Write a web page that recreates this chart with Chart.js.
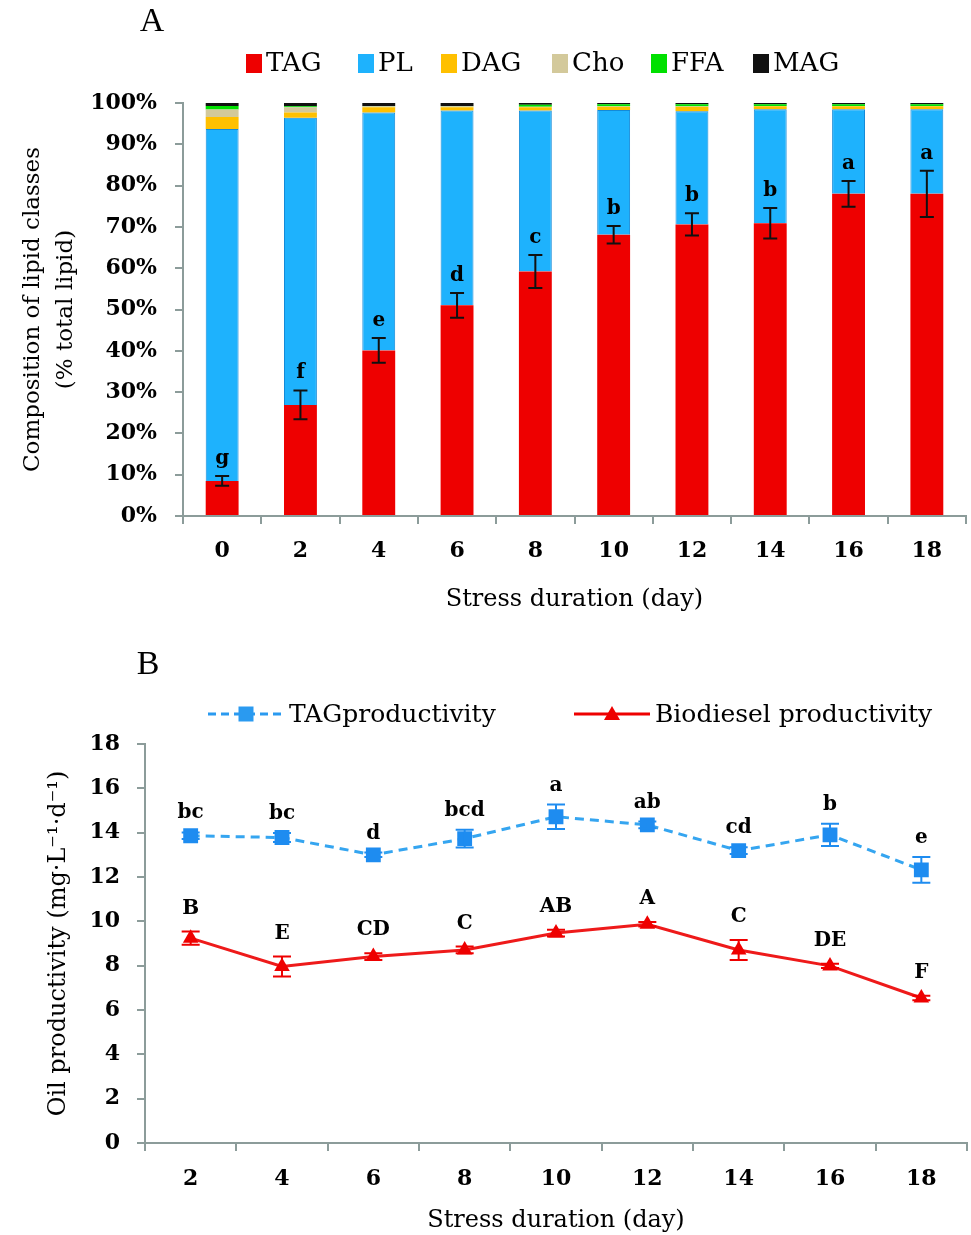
<!DOCTYPE html>
<html>
<head>
<meta charset="utf-8">
<script src="https://cdn.jsdelivr.net/npm/chart.js@4.4.1/dist/chart.umd.min.js"></script>
<style>
  body { margin: 0; background: #fff; }
  #wrapA { position: absolute; left: 0; top: 0; width: 971px; height: 625px; }
  #wrapB { position: absolute; left: 0; top: 625px; width: 971px; height: 610px; }
</style>
</head>
<body>
<div id="wrapA"><canvas id="chartA"></canvas></div>
<div id="wrapB"><canvas id="chartB"></canvas></div>
<script>
// panel A - lipid class composition (%)
var days = ['0', '2', '4', '6', '8', '10', '12', '14', '16', '18'];
var tagPct = [8.5, 26.9, 40.1, 51.0, 59.2, 68.1, 70.6, 70.9, 78.0, 78.0];
var plPct  = [85.2, 69.5, 57.6, 47.2, 39.0, 30.2, 27.4, 27.6, 20.5, 20.5];
var dagPct = [2.9, 1.3, 1.3, 0.8, 0.8, 0.8, 1.1, 0.7, 0.7, 0.7];
var choPct = [1.8, 1.3, 0.2, 0.2, 0.1, 0.1, 0.1, 0.1, 0.1, 0.1];
var ffaPct = [0.9, 0.2, 0.1, 0.1, 0.5, 0.5, 0.5, 0.4, 0.4, 0.4];
var magPct = [0.7, 0.8, 0.7, 0.7, 0.4, 0.3, 0.3, 0.3, 0.3, 0.3];
var tagPctErr = [1.2, 3.5, 3.0, 3.0, 4.0, 2.1, 2.7, 3.7, 3.1, 5.6];
var tagPctLetters = ['g', 'f', 'e', 'd', 'c', 'b', 'b', 'b', 'a', 'a'];

// panel B - productivity (mg/L/d)
var prodDays = ['2', '4', '6', '8', '10', '12', '14', '16', '18'];
var tagProd = [13.86, 13.78, 13.0, 13.73, 14.72, 14.35, 13.19, 13.9, 12.32];
var tagProdErr = [0.15, 0.2, 0.1, 0.4, 0.55, 0.15, 0.15, 0.5, 0.58];
var tagProdLetters = ['bc', 'bc', 'd', 'bcd', 'a', 'ab', 'cd', 'b', 'e'];
var bioProd = [9.24, 7.96, 8.41, 8.71, 9.47, 9.87, 8.71, 7.99, 6.54];
var bioProdErr = [0.3, 0.45, 0.15, 0.15, 0.15, 0.1, 0.45, 0.1, 0.1];
var bioProdLetters = ['B', 'E', 'CD', 'C', 'AB', 'A', 'C', 'DE', 'F'];

var FONT = 'DejaVu Serif';
var AXIS = '#8c9c9a';
Chart.defaults.font.family = FONT;
Chart.defaults.color = '#000';

// error bars + significance letters
var errorBarsPlugin = {
    id: 'errorBars',
    afterDatasetsDraw: function (chart, args, opts) {
        var ctx = chart.ctx;
        var yScale = chart.scales.y;
        (opts.sets || []).forEach(function (s) {
            var meta = chart.getDatasetMeta(s.dataset);
            var vals = chart.data.datasets[s.dataset].data;
            ctx.save();
            ctx.strokeStyle = s.color;
            ctx.lineWidth = 2;
            meta.data.forEach(function (el, i) {
                var x = el.x;
                var top = yScale.getPixelForValue(vals[i] + s.err[i]);
                var bot = yScale.getPixelForValue(vals[i] - s.err[i]);
                ctx.beginPath();
                ctx.moveTo(x, top); ctx.lineTo(x, bot);
                ctx.moveTo(x - s.cap, top); ctx.lineTo(x + s.cap, top);
                ctx.moveTo(x - s.cap, bot); ctx.lineTo(x + s.cap, bot);
                ctx.stroke();
                ctx.fillStyle = '#000';
                ctx.font = 'bold 20px "' + FONT + '"';
                ctx.textAlign = 'center';
                ctx.textBaseline = 'alphabetic';
                ctx.fillText(s.letters[i], x, top - s.gap);
            });
            ctx.restore();
        });
    }
};

// legend and panel letter drawn by hand
var sideLegendPlugin = {
    id: 'sideLegend',
    afterDraw: function (chart, args, opts) {
        var ctx = chart.ctx;
        ctx.save();
        ctx.fillStyle = '#000';
        ctx.font = '34px "Liberation Serif"';
        ctx.textAlign = 'center';
        ctx.textBaseline = 'middle';
        ctx.fillText(opts.panel.text, opts.panel.x, opts.panel.y);
        var y = opts.y;
        opts.items.forEach(function (it) {
            if (it.type === 'box') {
                ctx.fillStyle = it.color;
                ctx.fillRect(it.x, y - 9, 16, 19);
            } else {
                ctx.strokeStyle = it.color;
                ctx.lineWidth = 3;
                ctx.setLineDash(it.dash || []);
                ctx.beginPath();
                ctx.moveTo(it.x, y); ctx.lineTo(it.x2, y);
                ctx.stroke();
                ctx.setLineDash([]);
                ctx.fillStyle = it.color;
                var mx = (it.x + it.x2) / 2;
                ctx.beginPath();
                if (it.type === 'rect') {
                    ctx.rect(mx - 7.5, y - 7.5, 15, 15);
                } else {
                    ctx.moveTo(mx, y - 8); ctx.lineTo(mx + 8, y + 6); ctx.lineTo(mx - 8, y + 6); ctx.closePath();
                }
                ctx.fill();
            }
            ctx.fillStyle = '#000';
            ctx.font = opts.font;
            ctx.textAlign = 'left';
            ctx.textBaseline = 'middle';
            ctx.fillText(it.text, it.tx, y + 1);
        });
        ctx.restore();
    }
};

function axisGrid() {
    return { display: true, drawOnChartArea: false, drawTicks: true, tickLength: 8, color: AXIS, lineWidth: 2 };
}

new Chart(document.getElementById('chartA'), {
    type: 'bar',
    data: {
        labels: days,
        datasets: [
            { label: 'TAG', data: tagPct, backgroundColor: '#ee0000' },
            { label: 'PL', data: plPct, backgroundColor: '#1eb2fd', borderColor: '#138ad8', borderWidth: 1 },
            { label: 'DAG', data: dagPct, backgroundColor: '#ffc000' },
            { label: 'Cho', data: choPct, backgroundColor: '#d3c99b' },
            { label: 'FFA', data: ffaPct, backgroundColor: '#00e000' },
            { label: 'MAG', data: magPct, backgroundColor: '#111111' }
        ]
    },
    options: {
        responsive: true,
        maintainAspectRatio: false,
        animation: false,
        layout: { autoPadding: false, padding: { top: 103, right: 5, left: 0, bottom: 0 } },
        datasets: { bar: { barPercentage: 0.42, categoryPercentage: 1.0 } },
        scales: {
            x: {
                stacked: true,
                grid: Object.assign(axisGrid(), { offset: true }),
                border: { display: true, color: AXIS, width: 2 },
                ticks: { font: { size: 22, weight: 'bold' }, padding: 14 },
                title: { display: true, text: 'Stress duration (day)', font: { size: 24 }, padding: { top: 0, bottom: 11 } },
                afterFit: function (scale) { scale.height = 109; }
            },
            y: {
                stacked: true,
                min: 0, max: 100,
                grid: axisGrid(),
                border: { display: true, color: AXIS, width: 2 },
                ticks: { stepSize: 10, font: { size: 22, weight: 'bold' }, padding: 18,
                    callback: function (v) { return v + '%'; } },
                title: { display: true, text: ['Composition of lipid classes', '(% total lipid)'],
                    font: { size: 23, lineHeight: 1.45 }, padding: { top: 16 } },
                afterFit: function (scale) { scale.width = 183; }
            }
        },
        plugins: {
            legend: { display: false },
            tooltip: { enabled: false },
            errorBars: { sets: [{ dataset: 0, err: tagPctErr, letters: tagPctLetters, color: '#111', cap: 7, gap: 12 }] },
            sideLegend: {
                panel: { text: 'A', x: 152, y: 22 },
                y: 63,
                font: '26px "' + FONT + '"',
                items: [
                    { type: 'box', color: '#ee0000', x: 246, tx: 266, text: 'TAG' },
                    { type: 'box', color: '#1eb2fd', x: 358, tx: 378, text: 'PL' },
                    { type: 'box', color: '#ffc000', x: 441, tx: 461, text: 'DAG' },
                    { type: 'box', color: '#d3c99b', x: 552, tx: 572, text: 'Cho' },
                    { type: 'box', color: '#00e000', x: 651, tx: 671, text: 'FFA' },
                    { type: 'box', color: '#111111', x: 753, tx: 773, text: 'MAG' }
                ]
            }
        }
    },
    plugins: [errorBarsPlugin, sideLegendPlugin]
});

new Chart(document.getElementById('chartB'), {
    type: 'line',
    data: {
        labels: prodDays,
        datasets: [
            { label: 'TAGproductivity', data: tagProd, borderColor: '#35a5f0', borderWidth: 3, borderDash: [9, 6],
              pointStyle: 'rect', pointRadius: 10.5, pointBackgroundColor: '#1e8cf0', pointBorderWidth: 0, tension: 0 },
            { label: 'Biodiesel productivity', data: bioProd, borderColor: '#ee1a1a', borderWidth: 3,
              pointStyle: 'triangle', pointRadius: 9, pointBackgroundColor: '#ee0000', pointBorderWidth: 0, tension: 0 }
        ]
    },
    options: {
        responsive: true,
        maintainAspectRatio: false,
        animation: false,
        layout: { autoPadding: false, padding: { top: 119, right: 4, left: 0, bottom: 0 } },
        scales: {
            x: {
                offset: true,
                grid: Object.assign(axisGrid(), { offset: true }),
                border: { display: true, color: AXIS, width: 2 },
                ticks: { font: { size: 22, weight: 'bold' }, padding: 15 },
                title: { display: true, text: 'Stress duration (day)', font: { size: 24 }, padding: { top: 0, bottom: 0 } },
                afterFit: function (scale) { scale.height = 92; }
            },
            y: {
                min: 0, max: 18,
                grid: axisGrid(),
                border: { display: true, color: AXIS, width: 2 },
                ticks: { stepSize: 2, font: { size: 22, weight: 'bold' }, padding: 17 },
                title: { display: true, text: 'Oil productivity (mg·L⁻¹·d⁻¹)', font: { size: 24 }, padding: { top: 44 } },
                afterFit: function (scale) { scale.width = 145; }
            }
        },
        plugins: {
            legend: { display: false },
            tooltip: { enabled: false },
            errorBars: { sets: [
                { dataset: 0, err: tagProdErr, letters: tagProdLetters, color: '#1e8cf0', cap: 9, gap: 14 },
                { dataset: 1, err: bioProdErr, letters: bioProdLetters, color: '#ee0000', cap: 9, gap: 18 }
            ] },
            sideLegend: {
                panel: { text: 'B', x: 148, y: 40 },
                y: 89,
                font: '25px "' + FONT + '"',
                items: [
                    { type: 'rect', color: '#2a9af0', dash: [8, 5], x: 208, x2: 284, tx: 289, text: 'TAGproductivity' },
                    { type: 'tri', color: '#ee0000', x: 574, x2: 650, tx: 655, text: 'Biodiesel productivity' }
                ]
            }
        }
    },
    plugins: [errorBarsPlugin, sideLegendPlugin]
});
</script>
</body>
</html>
